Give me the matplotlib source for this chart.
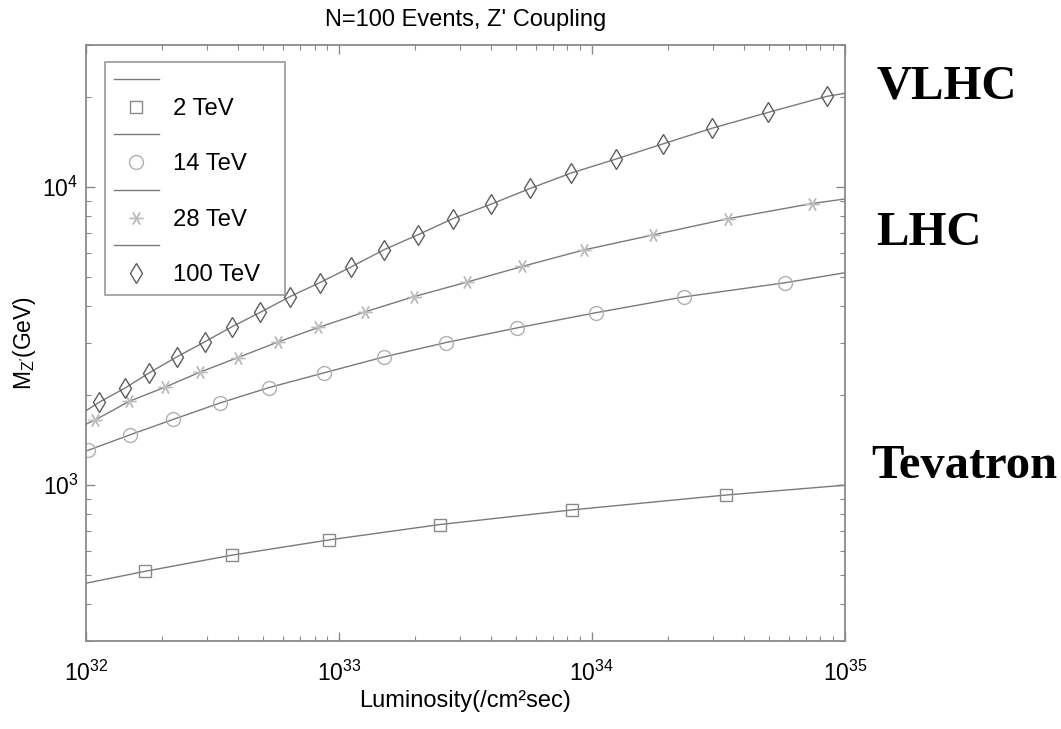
import matplotlib
matplotlib.use("Agg")
import matplotlib.pyplot as plt
from matplotlib.lines import Line2D
from matplotlib.ticker import NullFormatter

plt.rcParams['font.family'] = ['Liberation Sans', 'DejaVu Sans']
plt.rcParams['mathtext.fontset'] = 'custom'
plt.rcParams['mathtext.rm'] = 'Liberation Sans'
plt.rcParams['mathtext.it'] = 'Liberation Sans:italic'

# luminosity (cm^-2 s^-1) and Z' mass reach (GeV); first/last entries are the curve ends
lum_2 = [1e32, 1.71e32, 3.76e32, 9.1e32, 2.51e33, 8.32e33, 3.39e34, 1e35]
mass_2 = [469, 514, 582, 655, 738, 826, 927, 1000]

lum_14 = [1e32, 1.02e32, 1.49e32, 2.21e32, 3.39e32, 5.30e32, 8.75e32, 1.50e33,
          2.65e33, 5.07e33, 1.04e34, 2.31e34, 5.77e34, 1e35]
mass_14 = [1303, 1310, 1475, 1662, 1888, 2127, 2384, 2692,
           3011, 3373, 3793, 4285, 4775, 5164]

lum_28 = [1e32, 1.085e32, 1.48e32, 2.05e32, 2.82e32, 3.98e32, 5.75e32, 8.28e32,
          1.27e33, 1.98e33, 3.20e33, 5.30e33, 9.31e33, 1.75e34, 3.44e34, 7.40e34, 1e35]
mass_28 = [1603, 1654, 1911, 2132, 2395, 2680, 3025, 3383,
           3819, 4294, 4801, 5420, 6160, 6918, 7834, 8810, 9130]

lum_100 = [1e32, 1.125e32, 1.43e32, 1.78e32, 2.28e32, 2.94e32, 3.77e32, 4.88e32,
           6.40e32, 8.41e32, 1.12e33, 1.51e33, 2.06e33, 2.81e33, 3.98e33, 5.69e33,
           8.24e33, 1.245e34, 1.91e34, 2.99e34, 4.97e34, 8.49e34, 1e35]
mass_100 = [1778, 1897, 2121, 2384, 2692, 3025, 3400, 3802,
            4294, 4786, 5408, 6174, 6934, 7834, 8762, 9899,
            11140, 12432, 13977, 15776, 17820, 20180, 20650]

labels = ["2 TeV", "14 TeV", "28 TeV", "100 TeV"]
collider_names = ["VLHC", "LHC", "Tevatron"]

line_col = "#7a7a7a"
series = [
    (lum_2, mass_2, "s", 9, "#8a8a8a"),
    (lum_14, mass_14, "o", 10, "#b0b0b0"),
    (lum_28, mass_28, (6, 2, 90), 10, "#bdbdbd"),
    (lum_100, mass_100, "d", 10.5, "#5e5e5e"),
]

fig = plt.figure(figsize=(10.61, 7.29), dpi=100)
ax = fig.add_axes([0.0811, 0.1207, 0.7153, 0.8176])

handles = []
leg_labels = []
for (x, y, mk, ms, mc), lab in zip(series, labels):
    ax.plot(x, y, color=line_col, lw=1.0)
    ax.plot(x[1:-1], y[1:-1], ls="none", marker=mk, ms=ms, mfc="none",
            mec=mc, mew=1.0)
    handles.append(Line2D([], [], color=line_col, lw=1.0))
    leg_labels.append("")
    handles.append(Line2D([], [], ls="none", marker=mk, ms=ms, mfc="none",
                          mec=mc, mew=1.0))
    leg_labels.append(lab)

ax.set_xscale("log")
ax.set_yscale("log")
ax.set_xlim(1e32, 1e35)
ax.set_ylim(300, 30000)
ax.xaxis.set_minor_formatter(NullFormatter())
ax.yaxis.set_minor_formatter(NullFormatter())

for sp in ax.spines.values():
    sp.set_color("#8a8a8a")
    sp.set_linewidth(1.3)
ax.tick_params(which="both", direction="in", top=True, right=True,
               color="#8a8a8a", labelsize=16.5)
ax.tick_params(which="major", length=6.5, width=1.0)
ax.tick_params(which="minor", length=3.6, width=0.8)
ax.tick_params(axis="x", which="major", pad=14)
ax.tick_params(axis="y", which="major", pad=5.5)

ax.set_title("N=100 Events, Z' Coupling", fontsize=17, pad=14)
ax.set_xlabel("Luminosity(/cm²sec)", fontsize=17, labelpad=3)
ax.set_ylabel(r"M$_{\mathrm{Z'}}$(GeV)", fontsize=16.5, labelpad=3)

leg = ax.legend(handles, leg_labels, loc="upper left",
                bbox_to_anchor=(0.025, 0.972, 0.237, 0.0), mode="expand",
                borderaxespad=0, fontsize=17.2, fancybox=False,
                edgecolor="#8a8a8a", handlelength=1.9, handletextpad=0.6,
                labelspacing=0.24, borderpad=0.36)
leg.get_frame().set_linewidth(1.3)

ypos = [0.882, 0.680, 0.361]
for name, yy in zip(collider_names, ypos):
    fig.text(0.826 if name != "Tevatron" else 0.821, yy, name,
             family="Liberation Serif", weight="bold", fontsize=35,
             va="center", ha="left")

fig.savefig("out.png", dpi=100)
